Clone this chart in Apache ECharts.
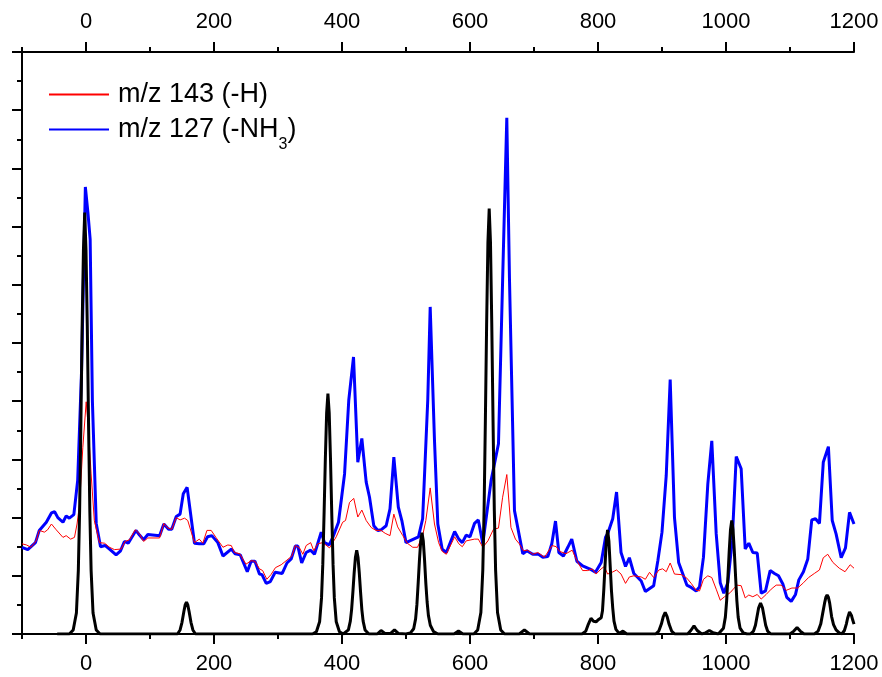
<!DOCTYPE html>
<html><head><meta charset="utf-8">
<script src="https://cdn.jsdelivr.net/npm/echarts@6/dist/echarts.min.js"></script>
<style>html,body{margin:0;padding:0;background:#fff}#c{width:882px;height:677px}</style>
</head><body><div id="c"></div>
<script>
const FONT = "'Liberation Sans', Arial, sans-serif";
const xLabelTicks = [0, 200, 400, 600, 800, 1000, 1200];
const legendNames = ['m/z 143 (-H)', 'm/z 127 (-NH3)'];

const red143 = [[-100,1.55],[-93,1.53],[-86,1.49],[-78,1.6],[-73,1.78],[-65,1.75],[-60,1.79],[-54,1.89],[-46.5,1.79],[-36,1.66],[-31,1.69],[-24,1.63],[-18,1.66],[-14,1.89],[-10,2.24],[-5,3.2],[0.3,3.99],[4,3.5],[8,2.75],[13,1.95],[21,1.57],[29,1.56],[36.7,1.49],[44.5,1.45],[55,1.46],[61,1.59],[68,1.62],[77,1.79],[83.6,1.72],[90,1.59],[96.6,1.65],[115,1.65],[121.6,1.90],[128,1.82],[134,1.80],[141,2.0],[147,1.96],[154,1.99],[159,1.95],[169.5,1.57],[177,1.63],[182.5,1.56],[189,1.78],[195.6,1.78],[203,1.66],[214,1.49],[221.6,1.53],[227,1.52],[232,1.40],[240,1.38],[250,1.20],[258,1.26],[264,1.25],[271,1.12],[276,1.09],[282.5,0.94],[289,1.02],[296,1.14],[305,1.19],[314,1.27],[321.6,1.34],[327,1.52],[333.6,1.48],[338.8,1.37],[344,1.52],[351,1.57],[356,1.43],[362,1.55],[370,1.57],[380.5,1.48],[391,1.67],[401,1.92],[405.5,1.95],[411.7,2.26],[418.4,2.33],[424.7,2.01],[431,2.13],[437.8,1.95],[445.6,1.83],[453,1.78],[461,1.78],[467.5,1.73],[475,1.69],[481,2.06],[487,1.84],[495,1.69],[502,1.56],[510.6,1.49],[518,1.49],[526,1.69],[531,1.95],[537.8,2.51],[544.5,1.89],[551,1.57],[556.5,1.42],[563,1.37],[576,1.67],[582.5,1.55],[588,1.50],[594,1.60],[607,1.63],[613,1.63],[620,1.49],[628,1.60],[636.7,1.80],[644.5,1.82],[651,2.35],[657.5,2.74],[664,1.83],[671,1.63],[677,1.55],[683.6,1.43],[690,1.44],[698,1.37],[706,1.40],[716.4,1.32],[728.4,1.52],[734.7,1.50],[740,1.42],[750,1.38],[759.7,1.44],[767,1.26],[776,1.09],[784,1.09],[791,1.12],[797,1.03],[805,1.12],[810,1.16],[815,1.03],[822,1.06],[829,1.10],[836,1.03],[843,0.87],[849,0.98],[856,1.0],[867.5,0.98],[874,0.94],[880.5,1.06],[887,0.97],[895,1.10],[901,1.12],[906.6,1.07],[912.8,1.22],[919.5,1.03],[930,1.02],[938.8,0.96],[945.6,0.87],[953.4,0.75],[958.6,0.74],[964.8,0.94],[971.6,1.0],[977.8,0.97],[984.7,0.77],[991,0.58],[997.7,0.64],[1006.5,0.71],[1017,0.84],[1023.7,0.83],[1030,0.62],[1035.6,0.67],[1041.9,0.64],[1048.8,0.68],[1055,0.60],[1062.8,0.68],[1070.6,0.77],[1078.4,0.84],[1086,0.84],[1094,0.75],[1103,0.79],[1112,0.79],[1121,0.88],[1129,0.97],[1138,1.04],[1146,1.10],[1152,1.31],[1159,1.37],[1167,1.23],[1177,1.13],[1186,1.07],[1194,1.19],[1200,1.13]];

const blue127 = [[-100,1.49],[-91,1.45],[-79,1.57],[-73,1.78],[-62,1.92],[-54,2.08],[-49,2.10],[-44,2.0],[-36,1.92],[-31,2.03],[-26,1.99],[-19,2.05],[-13,2.64],[-7,4.5],[-1,7.68],[3,7.24],[6.5,6.78],[10,4.0],[16,1.9],[22.7,1.5],[30,1.52],[36.7,1.46],[47,1.36],[54,1.43],[60,1.59],[66,1.56],[78,1.78],[83.6,1.70],[90,1.62],[96.6,1.71],[115,1.69],[121.6,1.89],[129,1.80],[134,1.80],[141,2.02],[147,2.06],[152,2.41],[158,2.52],[169.5,1.56],[177,1.55],[184,1.55],[190,1.67],[196.6,1.69],[206,1.57],[214,1.34],[227,1.46],[233,1.38],[241,1.36],[252,1.07],[258,1.25],[264,1.25],[271,1.03],[275,1.02],[281.6,0.87],[288,0.90],[295.6,1.06],[306.6,1.04],[314,1.22],[320.6,1.29],[327,1.51],[331,1.51],[337,1.22],[344,1.40],[351,1.44],[357,1.37],[367.5,1.75],[372.6,1.57],[380,1.53],[385.6,1.66],[394.5,1.92],[404,2.75],[410.6,4.02],[418,4.76],[424.7,2.95],[431,3.36],[437.8,2.61],[443,2.35],[449.7,1.86],[456,1.78],[461,1.79],[469,1.86],[475,2.15],[481,3.04],[488,2.18],[493.5,1.95],[500,1.57],[519.5,1.67],[526,1.98],[534,4.02],[537.8,5.62],[544.5,3.33],[549.7,1.89],[556.5,1.46],[563,1.40],[576,1.76],[582.5,1.63],[588,1.57],[594,1.70],[600,1.67],[607,1.90],[613,1.96],[620,1.55],[633,2.64],[644.5,3.27],[651,6.09],[657.5,8.87],[661.7,6.09],[669.5,2.12],[682.5,1.38],[688.8,1.43],[698,1.37],[707,1.37],[713.8,1.32],[721.6,1.33],[727.8,1.55],[733.6,1.94],[738.8,1.40],[746,1.34],[752.8,1.49],[759,1.63],[767,1.25],[776,1.17],[786.7,1.12],[796,1.06],[805,1.23],[811.7,1.66],[815,1.72],[823,1.98],[829,2.44],[836,1.40],[843,1.16],[849,1.31],[856,1.04],[867.5,0.91],[874,0.73],[887,0.83],[893.5,1.26],[900,1.75],[906.6,2.72],[912.8,4.37],[919.5,2.0],[926,1.23],[938.8,0.84],[945.6,0.80],[953.4,0.74],[958.6,0.81],[964.8,1.32],[971.6,2.58],[977.8,3.32],[984.7,1.72],[991,0.88],[996.6,0.70],[1002.8,0.88],[1009.7,1.60],[1016,3.05],[1023.7,2.84],[1030,1.46],[1035.6,1.56],[1041.9,1.40],[1048.8,1.39],[1055,0.70],[1061.7,0.74],[1069,1.09],[1075.8,1.04],[1082,1.0],[1088.8,0.86],[1095,0.63],[1101.9,0.56],[1108.6,0.68],[1113.8,0.93],[1121,1.07],[1127.8,1.29],[1134,1.96],[1139.8,1.98],[1146,1.90],[1152,2.95],[1160,3.22],[1166,1.95],[1172,1.72],[1180,1.31],[1186.7,1.48],[1193,2.09],[1200,1.89]];

const calcSpectrum = [[-45,0],[-26,0],[-20,0.07],[-15,0.36],[-12,1.09],[-10,2.1],[-8,3.6],[-6,5.3],[-4,6.6],[-2,7.24],[0,6.6],[2,5.3],[4,3.6],[6,2.1],[8,1.09],[11,0.36],[16,0.07],[22,0],
[143,0],[147,0.07],[150,0.2],[153,0.39],[155,0.5],[157,0.55],[159,0.5],[161,0.39],[164,0.2],[167,0.07],[171,0],
[354,0],[360,0.04],[365,0.21],[368,0.62],[370,1.2],[372,2.07],[374,3.02],[376,3.8],[378,4.13],[380,3.8],[382,3.02],[384,2.07],[386,1.2],[388,0.62],[391,0.21],[396,0.04],[402,0],
[405,0],[410,0.07],[413,0.22],[415,0.42],[417,0.72],[419,1.05],[421,1.32],[423,1.44],[425,1.32],[427,1.05],[429,0.72],[431,0.42],[433,0.22],[436,0.07],[442,0],
[455,0],[461,0.06],[467,0.01],[476,0.01],[482,0.07],[488,0.01],[500,0],
[507,0.02],[512,0.09],[515,0.26],[517,0.5],[519,0.87],[521,1.27],[523,1.6],[525,1.74],[527,1.6],[529,1.27],[531,0.87],[533,0.55],[535,0.32],[538,0.15],[543,0.04],[550,0],
[575,0],[582,0.05],[589,0],
[606,0],[612,0.07],[617,0.37],[620,1.1],[622,2.12],[624,3.66],[626,5.34],[628,6.73],[630,7.31],[632,6.73],[634,5.34],[636,3.66],[638,2.12],[640,1.1],[643,0.37],[648,0.07],[654,0],
[677,0],[685,0.07],[693,0],
[775,0],[781,0.05],[785,0.17],[789,0.27],[793,0.22],[797,0.21],[801,0.25],[805,0.28],[807,0.4],[809,0.75],[811,1.18],[813,1.6],[815,1.79],[817,1.6],[819,1.18],[821,0.75],[823,0.45],[825,0.22],[828,0.08],[833,0.01],[839,0.05],[845,0],
[890,0],[895,0.05],[899,0.17],[902,0.3],[905,0.37],[908,0.3],[911,0.17],[915,0.05],[920,0],
[940,0],[945,0.06],[950,0.14],[955,0.06],[962,0],[968,0.02],[974,0.06],[980,0.02],[988,0],
[990,0.01],[996,0.1],[999,0.29],[1001,0.57],[1003,0.98],[1005,1.42],[1007,1.79],[1009,1.95],[1011,1.79],[1013,1.42],[1015,0.98],[1017,0.57],[1019,0.29],[1022,0.1],[1027,0.02],[1033,0],
[1038,0],[1043,0.05],[1046,0.15],[1049,0.33],[1051,0.45],[1054,0.53],[1057,0.45],[1059,0.33],[1062,0.15],[1065,0.05],[1070,0],
[1100,0],[1106,0.05],[1111,0.11],[1116,0.05],[1122,0],
[1138,0],[1144,0.05],[1148,0.17],[1151,0.35],[1154,0.53],[1156,0.63],[1158,0.67],[1160,0.63],[1162,0.53],[1165,0.3],[1168,0.16],[1172,0.07],[1177,0.02],[1181,0],
[1185,0.06],[1188,0.17],[1190,0.27],[1193,0.38],[1196,0.32],[1198,0.24],[1200,0.17]];

const AXC = '#000';
function xAx(pos, major) {
  const tick = { show: true, length: major ? 10 : 5, lineStyle: { color: AXC, width: 2 } };
  if (major) tick.customValues = xLabelTicks;
  return {
    type: 'value', position: pos, gridIndex: 0, min: -100, max: 1200, interval: 100,
    axisLine: { show: !major, onZero: false, lineStyle: { color: AXC, width: 2 } },
    axisTick: tick,
    axisLabel: {
      show: !major, margin: 19, fontSize: 22, fontFamily: FONT, color: '#000',
      formatter: v => (v >= 0 && v % 200 === 0) ? String(v) : ''
    },
    splitLine: { show: false }
  };
}

const chart = echarts.init(document.getElementById('c'), null, { renderer: 'canvas' });
chart.setOption({
  animation: false,
  backgroundColor: '#fff',
  grid: { left: 22, right: 28, top: 52, bottom: 43, containLabel: false, outerBoundsMode: 'none' },
  xAxis: [xAx('bottom', false), xAx('bottom', true), xAx('top', false), xAx('top', true)],
  yAxis: [{
    type: 'value', min: 0, max: 10, interval: 1, position: 'left',
    axisLine: { show: true, onZero: false, lineStyle: { color: AXC, width: 2 } },
    axisTick: { show: true, length: 10, lineStyle: { color: AXC, width: 2 } },
    minorTick: { show: true, splitNumber: 2, length: 5, lineStyle: { color: AXC, width: 2 } },
    axisLabel: { show: false },
    splitLine: { show: false }
  }],
  legend: {
    orient: 'vertical', left: 48, top: 81, padding: 0, itemWidth: 60, itemHeight: 14, itemGap: 8,
    data: legendNames,
    itemStyle: { opacity: 0 },
    formatter: name => '{f|' + name.replace('NH3)', 'NH}{s|3}{a|)') + '}',
    textStyle: {
      color: '#000', fontFamily: FONT, fontSize: 27,
      rich: {
        f: { fontSize: 27, fontFamily: FONT, color: '#000', padding: [0, 0, 0, 4] },
        a: { fontSize: 27, fontFamily: FONT, color: '#000' },
        s: { fontSize: 16, fontFamily: FONT, color: '#000', padding: [30, 0, 0, 0] }
      }
    }
  },
  series: [
    { name: legendNames[1], type: 'line', xAxisIndex: 0, yAxisIndex: 0, data: blue127, symbol: 'none',
      lineStyle: { color: '#0000ff', width: 3 }, itemStyle: { color: '#0000ff' }, z: 2 },
    { name: legendNames[0], type: 'line', xAxisIndex: 0, yAxisIndex: 0, data: red143, symbol: 'none',
      lineStyle: { color: '#ff0000', width: 1 }, itemStyle: { color: '#ff0000' }, z: 3 },
    { name: 'calculated', type: 'line', xAxisIndex: 0, yAxisIndex: 0, data: calcSpectrum, symbol: 'none',
      lineStyle: { color: '#000', width: 3 }, itemStyle: { color: '#000' }, z: 4 }
  ]
});
</script></body></html>
